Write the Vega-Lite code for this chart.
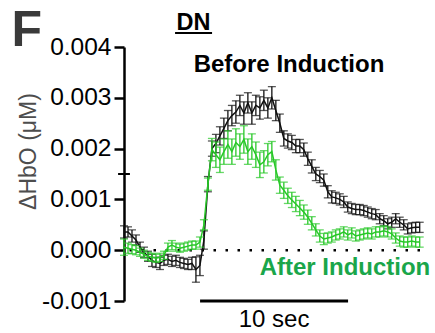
{
  "$schema": "https://vega.github.io/schema/vega-lite/v6.json",
  "width": 296,
  "height": 254,
  "autosize": {"type": "none"},
  "padding": {"left": 124, "top": 47, "right": 15, "bottom": 32},
  "background": "white",
  "config": {"view": {"stroke": null}, "font": "Liberation Sans"},
  "datasets": {
    "before": [
      {"t":0,"v":0.00036,"sem":0.00012},{"t":0.27,"v":0.00036,"sem":0.0001},{"t":0.54,"v":0.00028,"sem":0.00012},{"t":0.81,"v":0.0002,"sem":0.0001},
      {"t":1.08,"v":0.00006,"sem":0.0001},{"t":1.35,"v":-0.00004,"sem":0.0001},{"t":1.62,"v":-0.00012,"sem":0.0001},{"t":1.89,"v":-0.0002,"sem":0.00012},
      {"t":2.16,"v":-0.00024,"sem":0.0001},{"t":2.43,"v":-0.00026,"sem":0.00012},{"t":2.7,"v":-0.0002,"sem":0.0001},{"t":2.97,"v":-0.00018,"sem":0.0001},
      {"t":3.24,"v":-0.00022,"sem":0.0001},{"t":3.51,"v":-0.0002,"sem":0.0001},{"t":3.78,"v":-0.00024,"sem":0.0001},{"t":4.05,"v":-0.00026,"sem":0.0001},
      {"t":4.32,"v":-0.00028,"sem":0.0001},{"t":4.59,"v":-0.00026,"sem":0.00012},{"t":4.86,"v":-0.00038,"sem":0.00025},{"t":5.13,"v":-0.0003,"sem":0.0002},
      {"t":5.4,"v":0.0002,"sem":0.00018},{"t":5.67,"v":0.0013,"sem":0.00015},{"t":5.94,"v":0.002,"sem":0.00015},{"t":6.21,"v":0.0021,"sem":0.00018},
      {"t":6.48,"v":0.00225,"sem":0.00018},{"t":6.75,"v":0.0024,"sem":0.0002},{"t":7.02,"v":0.00255,"sem":0.0002},{"t":7.29,"v":0.00265,"sem":0.0002},
      {"t":7.56,"v":0.00272,"sem":0.00022},{"t":7.83,"v":0.00285,"sem":0.0002},{"t":8.1,"v":0.0027,"sem":0.00022},{"t":8.37,"v":0.0029,"sem":0.0002},
      {"t":8.64,"v":0.0027,"sem":0.00022},{"t":8.91,"v":0.00285,"sem":0.0002},{"t":9.18,"v":0.0028,"sem":0.00022},{"t":9.45,"v":0.00295,"sem":0.0002},
      {"t":9.72,"v":0.0028,"sem":0.0002},{"t":9.99,"v":0.003,"sem":0.00022},{"t":10.26,"v":0.00275,"sem":0.0002},{"t":10.53,"v":0.0025,"sem":0.00018},
      {"t":10.8,"v":0.0022,"sem":0.00015},{"t":11.07,"v":0.00215,"sem":0.00014},{"t":11.34,"v":0.00212,"sem":0.00014},{"t":11.61,"v":0.00205,"sem":0.00013},
      {"t":11.88,"v":0.00205,"sem":0.00013},{"t":12.15,"v":0.00198,"sem":0.00013},{"t":12.42,"v":0.0018,"sem":0.00013},{"t":12.69,"v":0.00165,"sem":0.00013},
      {"t":12.96,"v":0.0015,"sem":0.00013},{"t":13.23,"v":0.00145,"sem":0.00012},{"t":13.5,"v":0.00138,"sem":0.00012},{"t":13.77,"v":0.00115,"sem":0.00012},
      {"t":14.04,"v":0.00105,"sem":0.00012},{"t":14.31,"v":0.00103,"sem":0.00011},{"t":14.58,"v":0.001,"sem":0.00011},{"t":14.85,"v":0.00095,"sem":0.00011},
      {"t":15.12,"v":0.00085,"sem":0.0001},{"t":15.39,"v":0.00082,"sem":0.0001},{"t":15.66,"v":0.0008,"sem":0.0001},{"t":15.93,"v":0.0008,"sem":0.0001},
      {"t":16.2,"v":0.00078,"sem":0.0001},{"t":16.47,"v":0.00075,"sem":0.0001},{"t":16.74,"v":0.00072,"sem":0.0001},{"t":17.01,"v":0.0007,"sem":0.0001},
      {"t":17.28,"v":0.00062,"sem":0.0001},{"t":17.55,"v":0.00058,"sem":0.0001},{"t":17.82,"v":0.00052,"sem":0.0001},{"t":18.09,"v":0.00055,"sem":0.0001},
      {"t":18.36,"v":0.00062,"sem":0.0001},{"t":18.63,"v":0.00055,"sem":0.0001},{"t":18.9,"v":0.0005,"sem":0.0001},{"t":19.17,"v":0.00042,"sem":0.0001},
      {"t":19.44,"v":0.00044,"sem":0.0001},{"t":19.71,"v":0.00045,"sem":0.0001},{"t":19.98,"v":0.00045,"sem":0.0001}
    ],
    "after": [
      {"t":0,"v":0.00006,"sem":0.00016},{"t":0.27,"v":0.00004,"sem":0.0001},{"t":0.54,"v":0.00002,"sem":0.00009},{"t":0.81,"v":0,"sem":0.00009},
      {"t":1.08,"v":-0.00004,"sem":0.00008},{"t":1.35,"v":-0.00008,"sem":0.00008},{"t":1.62,"v":-0.00012,"sem":0.00008},{"t":1.89,"v":-0.00014,"sem":0.00008},
      {"t":2.16,"v":-0.00016,"sem":0.00008},{"t":2.43,"v":-0.00014,"sem":0.00008},{"t":2.7,"v":-0.0001,"sem":0.00008},{"t":2.97,"v":0.00006,"sem":0.00008},
      {"t":3.24,"v":0.0001,"sem":0.00009},{"t":3.51,"v":0.00006,"sem":0.00008},{"t":3.78,"v":0.00004,"sem":0.00008},{"t":4.05,"v":0.00006,"sem":0.00008},
      {"t":4.32,"v":0.00008,"sem":0.00008},{"t":4.59,"v":0.0001,"sem":0.00008},{"t":4.86,"v":0.0001,"sem":0.00008},{"t":5.13,"v":0.00016,"sem":0.0001},
      {"t":5.4,"v":0.0005,"sem":0.0001},{"t":5.67,"v":0.0013,"sem":0.00012},{"t":5.94,"v":0.00198,"sem":0.00022},{"t":6.21,"v":0.00188,"sem":0.00025},
      {"t":6.48,"v":0.00178,"sem":0.00025},{"t":6.75,"v":0.00194,"sem":0.00025},{"t":7.02,"v":0.00208,"sem":0.00027},{"t":7.29,"v":0.00194,"sem":0.00025},
      {"t":7.56,"v":0.00212,"sem":0.00027},{"t":7.83,"v":0.00204,"sem":0.00025},{"t":8.1,"v":0.00218,"sem":0.00027},{"t":8.37,"v":0.00194,"sem":0.00025},
      {"t":8.64,"v":0.00204,"sem":0.00025},{"t":8.91,"v":0.00188,"sem":0.00025},{"t":9.18,"v":0.00168,"sem":0.00025},{"t":9.45,"v":0.00174,"sem":0.00022},
      {"t":9.72,"v":0.00188,"sem":0.00022},{"t":9.99,"v":0.00194,"sem":0.0002},{"t":10.26,"v":0.00158,"sem":0.0002},{"t":10.53,"v":0.00128,"sem":0.00016},
      {"t":10.8,"v":0.00118,"sem":0.00016},{"t":11.07,"v":0.00107,"sem":0.00015},{"t":11.34,"v":0.00099,"sem":0.00015},{"t":11.61,"v":0.00091,"sem":0.00015},
      {"t":11.88,"v":0.00083,"sem":0.00015},{"t":12.15,"v":0.00075,"sem":0.00014},{"t":12.42,"v":0.00065,"sem":0.00014},{"t":12.69,"v":0.00053,"sem":0.00013},
      {"t":12.96,"v":0.0004,"sem":0.00012},{"t":13.23,"v":0.00028,"sem":0.00012},{"t":13.5,"v":0.00022,"sem":0.00011},{"t":13.77,"v":0.00024,"sem":0.0001},
      {"t":14.04,"v":0.00026,"sem":0.0001},{"t":14.31,"v":0.0003,"sem":0.0001},{"t":14.58,"v":0.00032,"sem":0.0001},{"t":14.85,"v":0.00036,"sem":0.0001},
      {"t":15.12,"v":0.0003,"sem":0.0001},{"t":15.39,"v":0.00034,"sem":0.0001},{"t":15.66,"v":0.00028,"sem":0.0001},{"t":15.93,"v":0.0003,"sem":0.0001},
      {"t":16.2,"v":0.00032,"sem":0.0001},{"t":16.47,"v":0.00034,"sem":0.0001},{"t":16.74,"v":0.00032,"sem":0.0001},{"t":17.01,"v":0.00036,"sem":0.0001},
      {"t":17.28,"v":0.00036,"sem":0.0001},{"t":17.55,"v":0.00038,"sem":0.0001},{"t":17.82,"v":0.00036,"sem":0.0001},{"t":18.09,"v":0.00032,"sem":0.0001},
      {"t":18.36,"v":0.00024,"sem":0.0001},{"t":18.63,"v":0.00018,"sem":0.0001},{"t":18.9,"v":0.00016,"sem":0.0001},{"t":19.17,"v":0.00016,"sem":0.0001},
      {"t":19.44,"v":0.00018,"sem":0.0001},{"t":19.71,"v":0.00016,"sem":0.0001},{"t":19.98,"v":0.00016,"sem":0.0001}
    ]
  },
  "encoding": {
    "x": {"field": "t", "type": "quantitative", "scale": {"domain": [0, 20], "nice": false, "zero": false}, "axis": null},
    "y": {
      "field": "v", "type": "quantitative",
      "scale": {"domain": [-0.001, 0.004], "nice": false, "zero": false},
      "axis": {
        "values": [-0.001, 0, 0.001, 0.002, 0.003, 0.004],
        "labelExpr": "replace(format(datum.value, '.3f'), '\u2212', '-')",
        "labelFont": "Liberation Sans", "labelFontSize": 24.5, "labelColor": "black",
        "labelPadding": 3, "labelFlush": false,
        "tickSize": 10, "tickWidth": 2.5, "tickColor": "black",
        "domainColor": "black", "domainWidth": 2.5, "grid": false,
        "title": "ΔHbO (μM)", "titleFont": "Liberation Sans", "titleFontSize": 23,
        "titleFontWeight": "normal", "titleColor": "#4d4d4d", "titleAngle": -90,
        "titleX": -89, "titleY": 104, "titleAlign": "center", "titleBaseline": "alphabetic"
      }
    }
  },
  "layer": [
    {
      "data": {"values": [{"v": 0}]},
      "mark": {"type": "rule", "color": "black", "strokeWidth": 2.5, "strokeDash": [2.5, 9.5]},
      "encoding": {"x": null}
    },
    {
      "data": {"values": [{"t": -0.4, "t2": 0.4, "v": 0.0015}]},
      "mark": {"type": "rule", "color": "black", "strokeWidth": 2},
      "encoding": {"x2": {"field": "t2"}}
    },
    {
      "data": {"name": "before"},
      "mark": {"type": "line", "color": "#111111", "strokeWidth": 1.5}
    },
    {
      "data": {"name": "before"},
      "mark": {"type": "errorbar", "color": "#111111", "thickness": 1.3, "ticks": {"size": 8, "strokeWidth": 1.3}},
      "encoding": {"yError": {"field": "sem"}}
    },
    {
      "data": {"name": "after"},
      "mark": {"type": "line", "color": "#28c828", "strokeWidth": 1.5}
    },
    {
      "data": {"name": "after"},
      "mark": {"type": "errorbar", "color": "#28c828", "thickness": 1.3, "ticks": {"size": 8, "strokeWidth": 1.3}},
      "encoding": {"yError": {"field": "sem"}}
    },
    {
      "data": {"values": [{"t": 5.14, "t2": 15.14, "v": -0.001}]},
      "mark": {"type": "rule", "color": "black", "strokeWidth": 3},
      "encoding": {"x2": {"field": "t2"}}
    },
    {
      "data": {"values": [{"t": 10.14, "v": -0.001512, "label": "10 sec"}]},
      "mark": {"type": "text", "font": "Liberation Sans", "fontSize": 24, "color": "black", "align": "center", "baseline": "alphabetic"},
      "encoding": {"text": {"field": "label"}}
    },
    {
      "data": {"values": [{"t": 11.15, "v": 0.003514, "label": "Before Induction"}]},
      "mark": {"type": "text", "font": "Liberation Sans", "fontSize": 24, "fontWeight": "bold", "color": "black", "align": "center", "baseline": "alphabetic"},
      "encoding": {"text": {"field": "label"}}
    },
    {
      "data": {"values": [{"t": 14.93, "v": -0.000488, "label": "After Induction"}]},
      "mark": {"type": "text", "font": "Liberation Sans", "fontSize": 24, "fontWeight": "bold", "color": "#1aa64a", "align": "center", "baseline": "alphabetic"},
      "encoding": {"text": {"field": "label"}}
    },
    {
      "data": {"values": [{"t": 4.7, "v": 0.004335, "label": "DN"}]},
      "mark": {"type": "text", "font": "Liberation Sans", "fontSize": 23.5, "fontWeight": "bold", "color": "black", "align": "center", "baseline": "alphabetic"},
      "encoding": {"text": {"field": "label"}}
    },
    {
      "data": {"values": [{"t": 3.45, "t2": 5.95, "v": 0.004276}]},
      "mark": {"type": "rule", "color": "black", "strokeWidth": 2},
      "encoding": {"x2": {"field": "t2"}}
    },
    {
      "data": {"values": [{"t": -7.6, "v": 0.00402, "label": "F"}]},
      "mark": {"type": "text", "font": "Liberation Sans", "fontSize": 50, "fontWeight": "bold", "color": "#3a3a3a", "align": "left", "baseline": "alphabetic"},
      "encoding": {"text": {"field": "label"}}
    }
  ]
}
